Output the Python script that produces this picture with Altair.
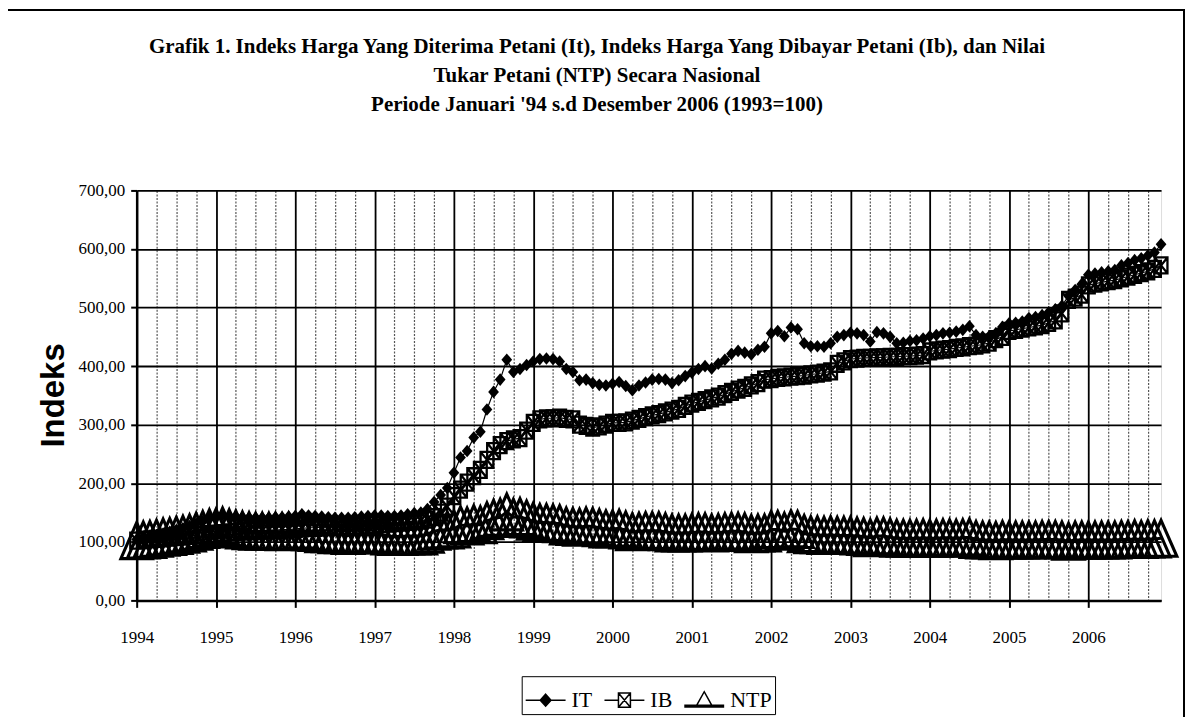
import json
import altair as alt
import pandas as pd

TITLE_LINES = [
    "Grafik 1. Indeks Harga Yang Diterima Petani (It), Indeks Harga Yang Dibayar Petani (Ib), dan Nilai",
    "Tukar Petani (NTP) Secara Nasional",
    "Periode Januari '94 s.d Desember 2006 (1993=100)",
]
Y_TITLE = "Indeks"
YEAR_LABELS = [str(y) for y in range(1994, 2007)]
SERIES = ["IT", "IB", "NTP"]

# monthly index values, Jan 1994 .. Dec 2006
IT = [
    104, 106, 108, 111, 114, 117, 120, 123, 127, 131, 135, 140,
    143, 146, 144, 143, 142, 141, 141, 141, 141, 142, 142, 143,
    144, 147, 145, 144, 143, 142, 141, 141, 141, 142, 143, 144,
    145, 145, 144, 144, 145, 147, 149, 150, 156, 168, 180, 192,
    218, 244, 255, 278, 288, 326, 356, 377, 411, 390, 395, 402,
    408, 412, 413, 412, 408, 395, 390, 376, 377, 371, 368, 367,
    370, 373, 366, 359, 367, 372, 377, 378, 377, 371, 376, 383,
    389, 395, 400, 396, 404, 411, 421, 426, 423, 420, 428, 433,
    456, 460, 451, 466, 463, 439, 434, 434, 433, 439, 450, 453,
    457, 456, 453, 442, 458, 456, 450, 439, 440, 443, 444, 447,
    451, 453, 456, 457, 459, 462, 468, 453, 450, 451, 456, 467,
    473, 474, 476, 482, 484, 487, 492, 497, 503, 520, 530, 540,
    556, 558, 560, 562, 564, 572, 576, 581, 584, 589, 594, 608,
]
IB = [
    102, 103, 104, 105, 106, 107, 108, 109, 110, 111, 112, 113,
    114, 115, 116, 117, 118, 118, 119, 119, 120, 120, 121, 121,
    122, 123, 124, 124, 125, 125, 126, 126, 127, 127, 128, 128,
    129, 130, 131, 132, 133, 134, 135, 136, 138, 142, 150, 160,
    178, 189, 201, 212, 223, 240, 255, 265, 272, 275, 277, 290,
    303, 309, 311, 311, 312, 310, 309, 300, 298, 295, 297, 300,
    303, 303, 304, 307, 310, 313, 316, 318, 321, 324, 327, 332,
    336, 339, 342, 345, 348, 352, 356, 360, 363, 367, 371, 377,
    378, 380, 381, 382, 383, 384, 386, 387, 389, 391, 404, 408,
    412, 413, 414, 414, 415, 415, 416, 416, 417, 417, 418, 419,
    425, 427, 428, 429, 431, 432, 434, 435, 437, 440, 446, 450,
    460, 462, 464, 466, 468, 470, 474, 478, 490, 513, 517, 522,
    538, 541, 543, 545, 547, 550, 553, 556, 559, 562, 566, 572,
]
NTP = [
    102, 103, 104, 106, 108, 109, 111, 113, 115, 118, 121, 124,
    125, 127, 124, 122, 120, 119, 118, 118, 118, 118, 117, 118,
    118, 120, 117, 116, 114, 114, 112, 112, 111, 112, 112, 113,
    112, 112, 110, 109, 109, 110, 110, 110, 113, 118, 120, 120,
    122, 129, 127, 131, 129, 136, 140, 142, 151, 142, 143, 139,
    135, 133, 133, 132, 131, 127, 126, 125, 127, 126, 124, 122,
    122, 123, 120, 117, 118, 119, 119, 119, 117, 115, 115, 115,
    116, 117, 117, 115, 116, 117, 118, 118, 117, 114, 115, 115,
    121, 121, 118, 122, 121, 114, 112, 112, 111, 112, 111, 111,
    111, 110, 109, 107, 110, 110, 108, 106, 106, 106, 106, 107,
    106, 106, 107, 107, 106, 107, 108, 104, 103, 103, 102, 104,
    103, 103, 103, 103, 103, 104, 104, 104, 103, 101, 103, 103,
    103, 103, 103, 103, 103, 104, 104, 105, 104, 105, 105, 106,
]
MONTHS = list(range(len(IT)))
QUARTERS = list(range(0, len(IT), 3))
Y_TICKS = list(range(0, 701, 100))

# marker shapes (normalised SVG paths)
DIAMOND = "M0,-1L0.85,0L0,1L-0.85,0Z"
SQUARE_X = "M-0.8,-1H0.8V1H-0.8Z M-0.8,-1L0.8,1 M0.8,-1L-0.8,1"
TRIANGLE = "M0,-1L0.88,1L-0.88,1Z"
LEGEND_PATHS = [
    "M-1,0H1 M0,-0.3L0.27,0L0,0.3L-0.27,0Z",
    "M-1,0H-0.3 M0.3,0H1 M-0.3,-0.36H0.3V0.36H-0.3Z M-0.3,-0.36L0.3,0.36 M0.3,-0.36L-0.3,0.36",
    "M-1,0.26H1 M-1,0.3H1 M-1,0.34H1 M0,-0.42L-0.4,0.3H0.4Z",
]
LEGEND_FILLS = ["black", "white", "white"]
LEGEND_STROKES = ["black", "black", "black"]

it_df = pd.DataFrame({"m": MONTHS, "v": IT})
ib_df = pd.DataFrame({"m": MONTHS, "v": IB})
ntp_df = pd.DataFrame({"m": MONTHS, "v": NTP})
series_df = pd.DataFrame({"s": SERIES})

year_test = "datum.value % 12 === 0"
x_enc = alt.X(
    "m:Q",
    title=None,
    scale=alt.Scale(domain=[0, len(IT) - 1], nice=False, zero=False),
    axis=alt.Axis(
        values=QUARTERS,
        labelExpr=f"{year_test} ? {json.dumps(YEAR_LABELS)}[datum.value / 12] : ''",
        labelFont="Liberation Serif",
        labelFontSize=17,
        labelColor="black",
        labelPadding=22,
        labelOverlap=False,
        labelFlush=False,
        labelAngle=0,
        tickSize=7,
        tickWidth=2,
        tickColor="black",
        tickOpacity={"condition": {"test": year_test, "value": 1}, "value": 0},
        domainColor="black",
        domainWidth=2.5,
        grid=True,
        gridColor={"condition": {"test": year_test, "value": "black"}, "value": "#555555"},
        gridWidth={"condition": {"test": year_test, "value": 1.8}, "value": 1.2},
        gridDash={"condition": {"test": year_test, "value": []}, "value": [2, 1.5]},
    ),
)
y_enc = alt.Y(
    "v:Q",
    title=Y_TITLE,
    scale=alt.Scale(domain=[0, 700], nice=False),
    axis=alt.Axis(
        values=Y_TICKS,
        labelExpr="replace(format(datum.value, '.2f'), '.', ',')",
        labelFont="Liberation Serif",
        labelFontSize=17,
        labelColor="black",
        labelPadding=6,
        tickSize=6,
        tickWidth=2,
        tickColor="black",
        domainColor="black",
        domainWidth=2.5,
        grid=True,
        gridColor="black",
        gridWidth=1.8,
        titleFont="Liberation Sans",
        titleFontSize=33,
        titleFontWeight="bold",
        titleColor="black",
        titleAngle=270,
        titleBaseline="bottom",
        titleAlign="center",
        titleX=-66,
        titleY=205,
    ),
)

frame = alt.Chart(alt.Data(values=[{"k": 0}])).mark_rect(
    fill="white", fillOpacity=0, stroke="black", strokeWidth=2
).encode(x=alt.value(-130), x2=alt.value(1050), y=alt.value(-181), y2=alt.value(545))

it_line = alt.Chart(it_df).mark_line(color="black", strokeWidth=1.2).encode(x=x_enc, y=y_enc)
it_pts = alt.Chart(it_df).mark_point(
    shape=DIAMOND, size=160, filled=True, color="black", opacity=1
).encode(x=x_enc, y=y_enc)
ib_line = alt.Chart(ib_df).mark_line(color="black", strokeWidth=1.2).encode(x=x_enc, y=y_enc)
ib_pts = alt.Chart(ib_df).mark_point(
    shape=SQUARE_X, size=256, filled=False, color="black", strokeWidth=2.3, opacity=1
).encode(x=x_enc, y=y_enc)
ntp_line = alt.Chart(ntp_df).mark_line(color="black", strokeWidth=3).encode(x=x_enc, y=y_enc)
ntp_pts = alt.Chart(ntp_df).mark_point(
    shape=TRIANGLE, size=1296, filled=False, color="black", strokeWidth=3.1, opacity=1
).encode(x=x_enc, y=y_enc)

legend_params = dict(
    orient="none",
    legendX=386,
    legendY=487,
    direction="horizontal",
    columns=3,
    title=None,
    labelFont="Liberation Serif",
    labelFontSize=22,
    labelColor="black",
    labelOffset=5,
    columnPadding=9,
    symbolSize=1600,
    symbolStrokeWidth=1.5,
    strokeColor="black",
    fillColor="white",
    padding=3,
)
legend_layer = alt.Chart(series_df).transform_filter("false").mark_point(
    filled=True, strokeWidth=1.5, opacity=1
).encode(
    shape=alt.Shape("s:N", sort=SERIES,
                    scale=alt.Scale(domain=SERIES, range=LEGEND_PATHS),
                    legend=alt.Legend(**legend_params)),
    fill=alt.Fill("s:N", sort=SERIES,
                  scale=alt.Scale(domain=SERIES, range=LEGEND_FILLS),
                  legend=alt.Legend(**legend_params)),
    stroke=alt.Stroke("s:N", sort=SERIES,
                      scale=alt.Scale(domain=SERIES, range=LEGEND_STROKES),
                      legend=alt.Legend(**legend_params)),
)

chart = alt.layer(
    frame, it_line, it_pts, ib_line, ib_pts, ntp_line, ntp_pts, legend_layer
).properties(
    width=1027,
    height=411,
    autosize=alt.AutoSizeParams(type="none"),
    padding={"left": 129, "top": 182, "right": 25, "bottom": 116},
    title=alt.TitleParams(
        text=TITLE_LINES,
        font="Liberation Serif",
        fontSize=21,
        fontWeight="bold",
        color="black",
        anchor="middle",
        dx=-52,
        offset=-106,
        lineHeight=29,
    ),
).configure_view(
    stroke="black", strokeWidth=2, fill="white"
).configure(background="white")

chart.save("out.html", embed_options={"renderer": "svg", "actions": False})
